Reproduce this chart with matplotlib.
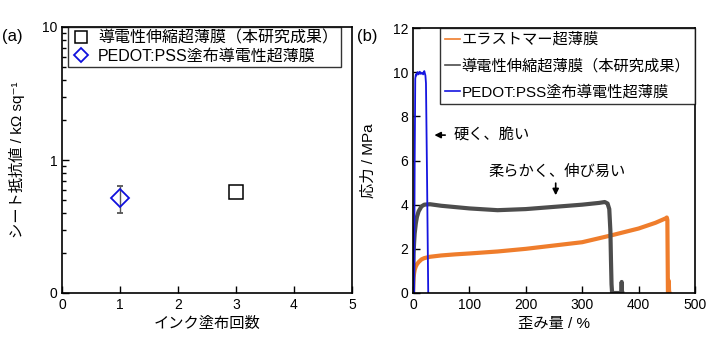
import matplotlib
matplotlib.use("Agg")
import matplotlib.pyplot as plt
from matplotlib.ticker import FixedLocator, FixedFormatter, LogLocator, NullFormatter

plt.rcParams['font.family'] = ['Liberation Sans', 'Noto Sans CJK JP', 'DejaVu Sans']

# ---- Data: (a) sheet resistance ----
coats_ours = [3]
res_ours = [0.57]
err_ours = [0.006]
coats_pedot = [1]
res_pedot = [0.515]
err_pedot_lo = [0.115]
err_pedot_hi = [0.125]

# ---- Data: (b) stress-strain ----
strain_elast = [0, 0.5, 1, 2, 3, 5, 7, 10, 15, 20, 30, 50, 75, 100, 150, 200, 250,
                300, 350, 400, 430, 448, 450, 451, 452, 453, 453.5, 454, 455]
stress_elast = [0, 0.45, 0.7, 0.9, 1.05, 1.2, 1.3, 1.4, 1.52, 1.58, 1.64, 1.7, 1.75,
                1.79, 1.88, 2.0, 2.15, 2.3, 2.6, 2.92, 3.18, 3.38, 3.42, 3.3, 0, 0, 0.55, 0.1, 0]

strain_ours = [0, 0.5, 1, 2, 3, 5, 7, 10, 15, 20, 30, 50, 100, 150, 200, 250, 300,
               330, 340, 345, 348, 350, 351, 352, 353, 369.5, 370, 370.5, 371]
stress_ours = [0, 1.0, 1.8, 2.3, 2.7, 3.15, 3.45, 3.7, 3.92, 4.0, 4.02, 3.95, 3.83,
               3.75, 3.8, 3.9, 4.0, 4.08, 4.12, 4.05, 3.8, 2.8, 1.5, 0.4, 0, 0, 0.5, 0, 0]

strain_pedot = [0, 2, 3, 4, 5, 6, 8, 10, 12, 14, 16, 18, 20, 21, 22, 23, 25, 27]
stress_pedot = [0, 0, 6.0, 9.7, 9.9, 9.85, 10.0, 9.9, 10.02, 9.92, 9.98, 9.9, 10.05,
                9.95, 9.85, 9.5, 5.0, 0]

# ---- Labels ----
lbl_elast = "エラストマー超薄膜"
lbl_ours = "導電性伸縮超薄膜（本研究成果）"
lbl_pedot = "PEDOT:PSS塗布導電性超薄膜"

fig = plt.figure(figsize=(7.10, 3.51), dpi=100)
axa = fig.add_axes([62/710, 1-293/351, 290/710, 266/351])
axb = fig.add_axes([413/710, 1-293/351, 282/710, 265/351])

# ---- Panel (a) ----
axa.errorbar(coats_ours, res_ours, yerr=err_ours, fmt='s', mfc='white', mec='black',
             mew=1.1, ms=10, ecolor='#444444', elinewidth=1, capsize=2, label=lbl_ours)
axa.errorbar(coats_pedot, res_pedot, yerr=[err_pedot_lo, err_pedot_hi], fmt='D', mfc='none',
             mec='#1010dd', mew=1.3, ms=9, ecolor='#555555', elinewidth=1, capsize=2,
             label=lbl_pedot, zorder=3)
axa.set_yscale('log')
axa.set_ylim(0.1, 10)
axa.set_xlim(0, 5)
axa.yaxis.set_major_locator(FixedLocator([0.1, 1, 10]))
axa.yaxis.set_major_formatter(FixedFormatter(["0", "1", "10"]))
axa.yaxis.set_minor_locator(LogLocator(base=10, subs=range(2, 10)))
axa.yaxis.set_minor_formatter(NullFormatter())
axa.set_xticks([0, 1, 2, 3, 4, 5])
axa.tick_params(direction='in', labelsize=10, length=5, width=1)
axa.tick_params(which='minor', direction='in', length=3, width=1)
axa.set_xlabel("インク塗布回数", fontsize=11, labelpad=4)
axa.set_ylabel("シート抵抗値 / kΩ sq⁻¹", fontsize=11, labelpad=12)
handles, labels = axa.get_legend_handles_labels()
handles = [h[0] for h in handles]
leg = axa.legend(handles, labels, loc='upper left', bbox_to_anchor=(0.02, 1.0), fontsize=11.5,
                 frameon=True, fancybox=False, edgecolor='black', borderpad=0.2,
                 labelspacing=0.2, handletextpad=0.5, borderaxespad=0, handlelength=1.2,
                 markerscale=0.8)
leg.get_frame().set_linewidth(1.0)

# ---- Panel (b) ----
axb.plot(strain_elast, stress_elast, color='#ef7d2c', lw=3.0, label=lbl_elast)
axb.plot(strain_ours, stress_ours, color='#4d4d4d', lw=3.0, label=lbl_ours)
axb.plot(strain_pedot, stress_pedot, color='#1515e0', lw=1.3, label=lbl_pedot)
axb.set_xlim(0, 500)
axb.set_ylim(0, 12)
axb.set_xticks([0, 100, 200, 300, 400, 500])
axb.set_yticks([0, 2, 4, 6, 8, 10, 12])
axb.tick_params(direction='in', labelsize=10, length=5, width=1)
axb.set_xlabel("歪み量 / %", fontsize=11, labelpad=4)
axb.set_ylabel("応力 / MPa", fontsize=11, labelpad=12)
legb = axb.legend(loc='upper right', fontsize=11, frameon=True, fancybox=False,
                  edgecolor='black', borderpad=0.3, labelspacing=0.75, handletextpad=0.1,
                  borderaxespad=0, handlelength=1.0)
legb.get_frame().set_linewidth(1.0)
for line in legb.get_lines():
    line.set_linewidth(1.2)

axb.annotate('', xy=(33, 7.15), xytext=(62, 7.15),
             arrowprops=dict(arrowstyle='-|>', color='black', lw=1.2, mutation_scale=9))
axb.text(72, 7.15, "硬く、脆い", fontsize=11, va='center', ha='left')
axb.text(255, 5.5, "柔らかく、伸び易い", fontsize=11, va='center', ha='center')
axb.annotate('', xy=(253, 4.3), xytext=(253, 5.1),
             arrowprops=dict(arrowstyle='-|>', color='black', lw=1.2, mutation_scale=9))

for ax in (axa, axb):
    for sp in ax.spines.values():
        sp.set_linewidth(1.2)

fig.text(2/710, 1-36/351, "(a)", fontsize=12, va='center', ha='left')
fig.text(357/710, 1-36/351, "(b)", fontsize=12, va='center', ha='left')

fig.savefig("out.png", dpi=100)
